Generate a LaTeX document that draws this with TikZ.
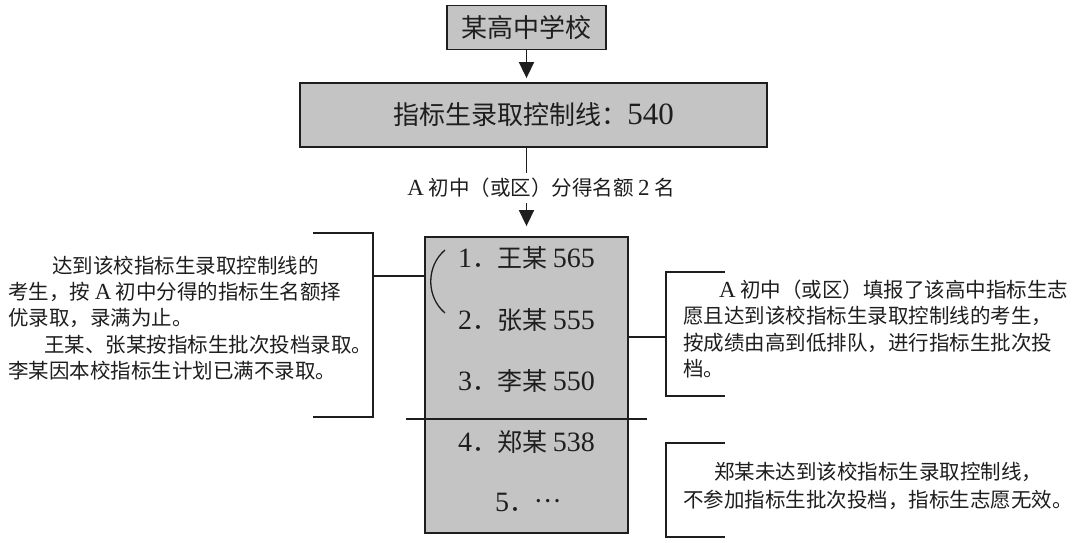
\documentclass[tikz,border=0pt]{standalone}
\usepackage{fontspec}
\setmainfont{Liberation Serif}
\newfontfamily\cjk{Noto Sans CJK SC}
\newfontfamily\lat{Liberation Serif}
\newcommand\latn[2]{{\lat\fontsize{#1}{#1}\selectfont #2}}
\usetikzlibrary{arrows.meta,calc}
\definecolor{boxgray}{RGB}{196,196,196}
\definecolor{ink}{RGB}{30,30,30}
\begin{document}
\begin{tikzpicture}[x=1pt,y=-1pt,
  box/.style={draw=ink, line width=1.8pt, fill=boxgray, inner sep=0pt, text=ink},
  conn/.style={draw=ink, line width=1.6pt},
  arr/.style={conn, -{Triangle[length=16pt,width=15pt]}},
  small/.style={inner sep=0pt, anchor=west, text=ink, font=\cjk\fontsize{20.5}{26}\selectfont},
  item/.style={inner sep=0pt, anchor=west, text=ink, font=\cjk\fontsize{25}{30}\selectfont},
  big/.style={font=\cjk\fontsize{26}{30}\selectfont}]
\useasboundingbox (0,0) rectangle (1080,543);
\fill[white] (0,0) rectangle (1080,543);

% top boxes
\node[box, big, minimum width=159pt, minimum height=44pt] (school) at (526.5,27.5) {某高中学校};
\node[box, big, minimum width=467pt, minimum height=64pt] (ctrl) at (533.5,115) {指标生录取控制线：\latn{31}{540}};
\draw[arr, shorten >=4pt] (school.south) -- (school.south |- ctrl.north);

% ranking box
\node[box, minimum width=203pt, minimum height=296pt] (rank) at (526.5,385) {};
\coordinate (col) at (526.5,0);

\node[text=ink, font=\cjk\fontsize{20.5}{24}\selectfont, inner xsep=0pt, inner ysep=5pt] (quota) at (541,188) {\latn{23}{A} 初中（或区）分得名额 \latn{23}{2} 名};
\draw[conn] (ctrl.south -| col) -- (quota.north -| col);
\draw[arr, shorten >=10pt] (quota.south -| col) -- (rank.north -| col);

% items
\node[item] (s1) at (458,258) {\latn{28}{1}．王某 \latn{28}{565}};
\node[item] (s2) at (458,320) {\latn{28}{2}．张某 \latn{28}{555}};
\node[item] (s3) at (458,381) {\latn{28}{3}．李某 \latn{28}{550}};
\node[item] (s4) at (458,442) {\latn{28}{4}．郑某 \latn{28}{538}};
\node[item] (s5) at (495,502) {\latn{28}{5}．\raisebox{0.33em}{…}};

% divider
\coordinate (dL) at (406,419);
\coordinate (dR) at (647,419);
\draw[conn] (dL) -- (dR);

% arc
\coordinate (aT) at (445,250);
\coordinate (aB) at (445,313);
\draw[ink, line width=1.3pt] (aT) .. controls (426,266) and (426,297) .. (aB);

% left bracket
\coordinate (lbT) at (313,233);
\coordinate (lbB) at (313,417);
\coordinate (lbM) at (373,276);
\draw[conn] (lbT) -- ++(60,0) |- (lbB);
\draw[conn] (lbM) -- (lbM -| rank.west);

% right bracket 1
\coordinate (rbT) at (725,272);
\coordinate (rbB) at (725,396);
\coordinate (rbM) at (666,337);
\draw[conn] (rbT) -- ++(-59,0) |- (rbB);
\draw[conn] (rank.east |- rbM) -- (rbM);

% right bracket 2
\coordinate (rcT) at (725,443);
\coordinate (rcB) at (725,537);
\draw[conn] (rcT) -- ++(-59,0) |- (rcB);

% left text
\node[small] (l1) at (52,266) {达到该校指标生录取控制线的};
\node[small] (l2) at (8,292) {考生，按 \latn{23}{A} 初中分得的指标生名额择};
\node[small] (l3) at (8,318) {优录取，录满为止。};
\node[small] (l4) at (44,345) {王某、张某按指标生批次投档录取。};
\node[small] (l5) at (8,371) {李某因本校指标生计划已满不录取。};

% right text
\node[small] (r1) at (719,290) {\latn{23}{A} 初中（或区）填报了该高中指标生志};
\node[small] (r2) at (683,316) {愿且达到该校指标生录取控制线的考生，};
\node[small] (r3) at (683,343) {按成绩由高到低排队，进行指标生批次投};
\node[small] (r4) at (683,369) {档。};

% bottom right text
\node[small] (b1) at (714,472) {郑某未达到该校指标生录取控制线，};
\node[small] (b2) at (683,500) {不参加指标生批次投档，指标生志愿无效。};
\end{tikzpicture}
\end{document}
